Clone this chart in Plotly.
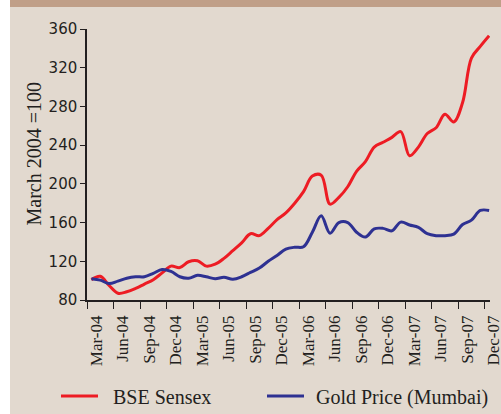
import plotly.graph_objects as go

months = ["Mar-04","Apr-04","May-04","Jun-04","Jul-04","Aug-04","Sep-04","Oct-04","Nov-04","Dec-04",
          "Jan-05","Feb-05","Mar-05","Apr-05","May-05","Jun-05","Jul-05","Aug-05","Sep-05","Oct-05",
          "Nov-05","Dec-05","Jan-06","Feb-06","Mar-06","Apr-06","May-06","Jun-06","Jul-06","Aug-06",
          "Sep-06","Oct-06","Nov-06","Dec-06","Jan-07","Feb-07","Mar-07","Apr-07","May-07","Jun-07",
          "Jul-07","Aug-07","Sep-07","Oct-07","Nov-07","Dec-07"]

sensex = [101, 104.5, 95, 87, 88.5, 92, 96.5, 101, 108, 115,
          113.5, 119.5, 120.5, 115, 117, 123, 131, 139, 148.5, 146.5,
          154, 163, 170, 180, 192, 208, 209, 179, 186, 197,
          213, 223, 238, 243, 248, 254, 229, 238, 252, 258,
          272, 264, 284, 330, 342, 353]

gold = [102, 100.5, 97, 99.5, 102.5, 104, 104, 107.5, 111.5, 109.5,
        104, 102.5, 105.5, 104, 102, 103.5, 101.5, 104, 108.5, 113,
        120, 126, 132.5, 134.5, 135, 150, 167, 149, 160, 160,
        150, 145, 153.5, 154, 151.5, 160.5, 157.5, 155, 148.5, 146.5,
        146.5, 148, 158, 162.5, 172.5, 172.5]

series_names = ["BSE Sensex", "Gold Price (Mumbai)"]
series_colors = ["#ed1c24", "#2e3192"]

tick_labels = months[::3]
y_ticks = [80, 120, 160, 200, 240, 280, 320, 360]

x_pos = [i + 0.5 for i in range(len(months))]
tick_pos = list(range(0, len(months), 3))

W, H = 501, 414
L, R, T, B = 87, 11, 29, 114
pw, ph = W - L - R, H - T - B

def px(xp):
    return (xp - L) / pw

def py(yp):
    return (H - B - yp) / ph

ink = "#231f20"
fig = go.Figure()
for name, vals, col in zip(series_names, [sensex, gold], series_colors):
    fig.add_trace(go.Scatter(x=x_pos, y=vals, name=name, mode="lines", showlegend=False,
                             line=dict(color=col, width=3, shape="spline", smoothing=1.0)))

bg = "#e2d9cf"
shapes = [
    dict(type="rect", xref="paper", yref="paper", x0=px(10), x1=px(W + 5),
         y0=py(7), y1=py(-5), fillcolor="#c09f88", line=dict(width=0), layer="below"),
    dict(type="rect", xref="paper", yref="paper", x0=px(-5), x1=px(10),
         y0=py(H + 5), y1=py(-5), fillcolor="#ffffff", line=dict(width=0), layer="below"),
]
annotations = [dict(text="March 2004 =100", xref="paper", yref="paper",
                    x=px(33), y=py(154.5), xanchor="center", yanchor="middle",
                    textangle=-90, showarrow=False,
                    font=dict(family="Liberation Serif", size=20, color=ink))]

# legend (manual, to keep exact placement)
leg_line_x = [(61, 98), (267, 304)]
leg_text_x = [111, 314]
leg_y = 396
for (a, b), tx, name, col in zip(leg_line_x, leg_text_x, series_names, series_colors):
    shapes.append(dict(type="line", xref="paper", yref="paper", x0=px(a), x1=px(b),
                       y0=py(leg_y), y1=py(leg_y), line=dict(color=col, width=3)))
    annotations.append(dict(text=name, xref="paper", yref="paper", x=px(tx), y=py(leg_y + 1),
                            xanchor="left", yanchor="middle", showarrow=False,
                            font=dict(family="Liberation Serif", size=20, color=ink)))

fig.update_layout(
    width=W, height=H,
    margin=dict(l=L, r=R, t=T, b=B, autoexpand=False),
    paper_bgcolor=bg, plot_bgcolor=bg,
    showlegend=False,
    xaxis=dict(range=[0, 45.6], tickvals=tick_pos, ticktext=tick_labels, automargin=False,
               tickangle=-90, ticks="outside", ticklen=7, tickwidth=1.2, tickcolor=ink,
               showline=True, linecolor=ink, linewidth=1.5, showgrid=False, zeroline=False,
               tickfont=dict(family="Liberation Serif", size=17, color=ink),
               ticklabelshift=9, ticklabeloverflow="allow"),
    yaxis=dict(range=[80, 360], tickvals=y_ticks, ticks="outside", ticklen=5, tickwidth=1.2,
               tickcolor=ink, showline=True, linecolor=ink, linewidth=1.5, automargin=False,
               showgrid=False, zeroline=False,
               tickfont=dict(family="DejaVu Sans", size=15, color=ink)),
    annotations=annotations,
    shapes=shapes,
)

fig.write_html("out.html", config={"displayModeBar": False},
               post_script="document.body.style.margin='0';document.body.style.overflow='hidden';")
